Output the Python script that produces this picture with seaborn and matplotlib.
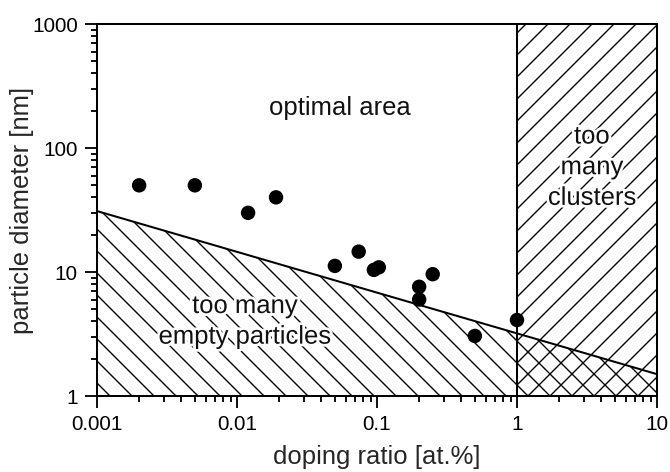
import numpy as np
import pandas as pd
import matplotlib
matplotlib.use("Agg")
import matplotlib.pyplot as plt
import matplotlib.patheffects as pe
from matplotlib.ticker import LogLocator, FixedLocator, FixedFormatter, NullFormatter
import seaborn as sns

# Measured samples: doping ratio [at.%] and particle diameter [nm]
doping_ratio = [0.002, 0.005, 0.012, 0.019, 0.05, 0.074, 0.095, 0.103, 0.2, 0.2, 0.25, 0.5, 1.0]
diameter_nm = [50, 50, 30, 40, 11.2, 14.6, 10.4, 10.9, 7.6, 6.0, 9.6, 3.05, 4.1]

# Lower boundary: below it, too many particles stay empty
boundary_x = [0.001, 10]
boundary_y = [31, 1.5]

# Upper doping limit: above it, too many clusters form
cluster_limit = 1.0

x_ticks = [0.001, 0.01, 0.1, 1, 10]
x_tick_labels = ["0.001", "0.01", "0.1", "1", "10"]
y_ticks = [1, 10, 100, 1000]
y_tick_labels = ["1", "10", "100", "1000"]

sns.set_theme(style="ticks")
plt.rcParams["font.family"] = ["Liberation Sans", "DejaVu Sans"]
plt.rcParams["hatch.linewidth"] = 0.75
plt.rcParams["hatch.color"] = "black"

DPI = 132
fig = plt.figure(figsize=(670 / DPI, 472 / DPI), dpi=DPI)
ax = fig.add_axes([97 / 670, 1 - 396 / 472, 560 / 670, 372 / 472])
ax.set_xscale("log")
ax.set_yscale("log")
ax.set_xlim(0.001, 10)
ax.set_ylim(1, 1000)

# Boundary line, straight on the log-log scale
xb = np.logspace(np.log10(boundary_x[0]), np.log10(boundary_x[-1]), 200)
slope = (np.log10(boundary_y[1]) - np.log10(boundary_y[0])) / (np.log10(boundary_x[1]) - np.log10(boundary_x[0]))
yb = 10 ** (np.log10(boundary_y[0]) + slope * (np.log10(xb) - np.log10(boundary_x[0])))

ax.fill_between(xb, 1, yb, facecolor="none", edgecolor="black", hatch="\\\\", linewidth=0)
ax.fill_between([cluster_limit, 10], 1, 1000, facecolor="none", edgecolor="black", hatch="//", linewidth=0)

boundary = pd.DataFrame({"x": xb, "y": yb})
sns.lineplot(data=boundary, x="x", y="y", color="black", linewidth=1.1, ax=ax)
ax.axvline(cluster_limit, color="black", linewidth=1.1)

samples = pd.DataFrame({"doping": doping_ratio, "diameter": diameter_nm})
sns.scatterplot(data=samples, x="doping", y="diameter", color="black", s=62,
                edgecolor="none", ax=ax, zorder=5)

halo = [pe.withStroke(linewidth=3, foreground="white")]
ax.text(0.054, 210, "optimal area", ha="center", va="center", fontsize=14, color="#111111")
ax.text(0.0114, 4.0, "too many\nempty particles", ha="center", va="center", fontsize=14,
        color="#111111", linespacing=1.35, path_effects=halo)
ax.text(3.43, 70, "too\nmany\nclusters", ha="center", va="center", fontsize=14,
        color="#111111", linespacing=1.35, path_effects=halo)

ax.xaxis.set_major_locator(FixedLocator(x_ticks))
ax.xaxis.set_major_formatter(FixedFormatter(x_tick_labels))
ax.xaxis.set_minor_locator(LogLocator(base=10, subs=np.arange(2, 10)))
ax.xaxis.set_minor_formatter(NullFormatter())
ax.yaxis.set_major_locator(FixedLocator(y_ticks))
ax.yaxis.set_major_formatter(FixedFormatter(y_tick_labels))
ax.yaxis.set_minor_locator(LogLocator(base=10, subs=np.arange(2, 10)))
ax.yaxis.set_minor_formatter(NullFormatter())

ax.tick_params(which="major", direction="out", length=6.5, width=1.0, labelsize=11.3,
               colors="black", pad=4)
ax.tick_params(which="minor", direction="out", length=3.5, width=1.0, colors="black")
ax.tick_params(top=False, right=False, which="both")

for side in ["left", "bottom", "top", "right"]:
    ax.spines[side].set_visible(True)
    ax.spines[side].set_color("black")
    ax.spines[side].set_linewidth(1.1)

ax.set_xlabel("doping ratio [at.%]", fontsize=14, labelpad=6)
ax.set_ylabel("particle diameter [nm]", fontsize=14)
ax.yaxis.set_label_coords(-0.113, 0.5)

fig.savefig("out.png", dpi=DPI, facecolor="white")
